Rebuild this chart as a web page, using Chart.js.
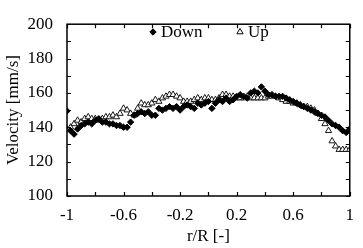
<!DOCTYPE html>
<html>
<head>
<meta charset="utf-8">
<script src="https://cdn.jsdelivr.net/npm/chart.js@4.4.1/dist/chart.umd.min.js"></script>
<style>
  html, body { margin: 0; padding: 0; background: #fff; }
  #wrap { width: 363px; height: 248px; }
</style>
</head>
<body>
<div id="wrap"><canvas id="c"></canvas></div>
<script>
// r/R positions of the measuring points
const radius = [
  -1, -0.975, -0.95, -0.925, -0.9, -0.875, -0.85, -0.825, -0.8, -0.775,
  -0.75, -0.725, -0.7, -0.675, -0.65, -0.625, -0.6, -0.575, -0.55, -0.525,
  -0.5, -0.475, -0.45, -0.425, -0.4, -0.375, -0.35, -0.325, -0.3, -0.275,
  -0.25, -0.225, -0.2, -0.175, -0.15, -0.125, -0.1, -0.075, -0.05, -0.025,
  0, 0.025, 0.05, 0.075, 0.1, 0.125, 0.15, 0.175, 0.2, 0.225,
  0.25, 0.275, 0.3, 0.325, 0.35, 0.375, 0.4, 0.425, 0.45, 0.475,
  0.5, 0.525, 0.55, 0.575, 0.6, 0.625, 0.65, 0.675, 0.7, 0.725,
  0.75, 0.775, 0.8, 0.825, 0.85, 0.875, 0.9, 0.925, 0.95, 0.975, 1
];

// velocity [mm/s], downward flow
const downVel = [
  149.5, 138, 136, 139, 141, 142, 143, 142, 144, 145,
  143, 143, 142, 142, 141, 141, 140, 140, 143, 147,
  148, 149, 148, 149, 147, 147, 151, 150, 151, 152,
  151, 152, 150, 152, 153, 152, 151, 154, 153, 154,
  155, 151, 154, 156, 155, 157, 155, 156, 158, 159,
  158, 157, 160, 161, 160, 163.5, 161, 159, 159, 158,
  158, 158, 157, 156, 155, 154, 153, 152, 151, 150,
  149, 148, 147, 146, 144, 142, 141, 140, 138, 137, 139
];

// velocity [mm/s], upward flow
const upVel = [
  139, 140, 142, 144, 143, 145, 146, 145, 145, 144,
  145, 146, 146, 147, 146, 148, 151, 150, 148, 147,
  151, 154, 153, 153, 154, 156, 155, 157, 158, 159,
  159, 158, 157, 155, 155, 155, 156, 157, 156, 157,
  157, 156, 156, 157, 159, 159, 158, 158, 157, 157,
  157, 158, 157, 157, 157, 157, 157, 158, 158, 158,
  157, 156, 155, 155, 154, 154, 153, 152, 152, 151,
  150, 148, 145, 142, 138, 132, 129, 127, 127, 127, 127
];

const xLabels = [-1, -0.6, -0.2, 0.2, 0.6, 1];
const yLabels = [100, 120, 140, 160, 180, 200];

const FONT = "'Liberation Serif', 'Times New Roman', serif";

const toPoints = (ys) => radius.map((r, i) => ({ x: r, y: ys[i] }));

// box frame, inward ticks on all four sides, and the in-plot legend
const framePlugin = {
  id: "frame",
  afterDraw(chart) {
    const { ctx, chartArea: a, scales } = chart;
    ctx.save();
    ctx.strokeStyle = "#000";
    ctx.lineWidth = 1.5;
    ctx.strokeRect(a.left, a.top, a.right - a.left, a.bottom - a.top);

    ctx.lineWidth = 1.2;
    ctx.beginPath();
    scales.x.ticks.forEach((t) => {
      const px = Math.round(scales.x.getPixelForValue(t.value)) + 0.5;
      ctx.moveTo(px, a.bottom); ctx.lineTo(px, a.bottom - 4);
      ctx.moveTo(px, a.top); ctx.lineTo(px, a.top + 4);
    });
    scales.y.ticks.forEach((t) => {
      const py = Math.round(scales.y.getPixelForValue(t.value)) + 0.5;
      ctx.moveTo(a.left, py); ctx.lineTo(a.left + 4, py);
      ctx.moveTo(a.right, py); ctx.lineTo(a.right - 4, py);
    });
    ctx.stroke();

    // legend
    ctx.font = "17px " + FONT;
    ctx.fillStyle = "#000";
    ctx.textBaseline = "middle";
    const items = [
      { ds: chart.data.datasets[0], x: 153, y: 32 },
      { ds: chart.data.datasets[1], x: 240, y: 32 },
    ];
    items.forEach(({ ds, x, y }) => {
      ctx.fillStyle = ds.pointBackgroundColor;
      ctx.strokeStyle = ds.pointBorderColor;
      ctx.lineWidth = 1;
      Chart.helpers.drawPoint(ctx, { pointStyle: ds.pointStyle, radius: ds.pointRadius, borderWidth: 1 }, x, y);
      ctx.fillStyle = "#000";
      ctx.fillText(ds.label, x + 8, y + 1);
    });
    ctx.restore();
  },
};

new Chart(document.getElementById("c"), {
  type: "scatter",
  data: {
    datasets: [
      {
        label: "Down",
        data: toPoints(downVel),
        pointStyle: "rectRot",
        pointRadius: 3.2,
        pointBackgroundColor: "#000",
        pointBorderColor: "#000",
        pointBorderWidth: 1,
      },
      {
        label: "Up",
        data: toPoints(upVel),
        pointStyle: "triangle",
        pointRadius: 3.6,
        pointBackgroundColor: "#fff",
        pointBorderColor: "#000",
        pointBorderWidth: 0.9,
      },
    ],
  },
  options: {
    responsive: true,
    maintainAspectRatio: false,
    animation: false,
    layout: { padding: { top: 12, right: 7, left: 0, bottom: 0 } },
    plugins: { legend: { display: false }, tooltip: { enabled: false } },
    scales: {
      x: {
        type: "linear",
        min: -1,
        max: 1,
        afterFit(scale) { scale.height = 52; },
        grid: { display: false, drawTicks: false },
        border: { display: false },
        ticks: {
          stepSize: 0.2,
          autoSkip: false,
          maxRotation: 0,
          padding: 9,
          color: "#000",
          font: { family: FONT, size: 17 },
          callback(v) {
            const r = Math.round(v * 10) / 10;
            return xLabels.includes(r) ? String(r) : "";
          },
        },
        title: {
          display: true,
          text: "r/R [-]",
          color: "#000",
          font: { family: FONT, size: 17 },
          padding: { top: 1, bottom: 1 },
        },
      },
      y: {
        type: "linear",
        min: 100,
        max: 200,
        afterFit(scale) { scale.width = 67; },
        grid: { display: false, drawTicks: false },
        border: { display: false },
        ticks: {
          stepSize: 10,
          autoSkip: false,
          padding: 14,
          color: "#000",
          font: { family: FONT, size: 17 },
          callback(v) { return yLabels.includes(v) ? String(v) : ""; },
        },
        title: {
          display: true,
          text: "Velocity [mm/s]",
          color: "#000",
          font: { family: FONT, size: 17 },
          padding: { top: 3, bottom: 3 },
        },
      },
    },
  },
  plugins: [framePlugin],
});
</script>
</body>
</html>
